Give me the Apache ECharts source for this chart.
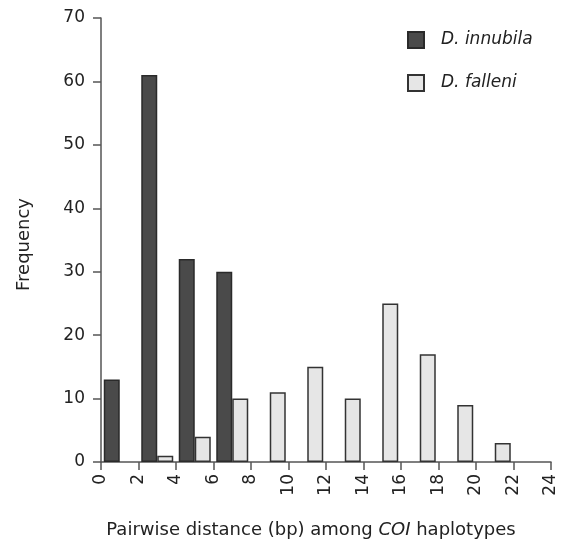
<!DOCTYPE html>
<html>
<head>
<meta charset="utf-8">
<script src="https://cdn.jsdelivr.net/npm/echarts@6/dist/echarts.min.js"></script>
<style>
html,body{margin:0;padding:0;background:#fff;}
#chart{width:561px;height:544px;}
</style>
</head>
<body>
<div id="chart"></div>
<script>
// Bin starts (bp), bars are drawn centred at start+1
const binStarts = [0, 2, 4, 6, 8, 10, 12, 14, 16, 18, 20];
const innubila = [13, 61, 32, 30, null, null, null, null, null, null, null];
const falleni  = [null, 1, 4, 10, 11, 15, 10, 25, 17, 9, 3];
const seriesNames = ['D. innubila', 'D. falleni'];
const xTicks = {min: 0, max: 24, interval: 2};
const yTicks = {min: 0, max: 70, interval: 10};

const font = 'DejaVu Sans';
const chart = echarts.init(document.getElementById('chart'), null, {renderer: 'canvas'});

function toPairs(vals) {
  return binStarts.map((b, i) => [b + 1, vals[i]]).filter(p => p[1] !== null);
}

chart.setOption({
  backgroundColor: '#ffffff',
  animation: false,
  grid: {left: 101, right: 10, top: 18, bottom: 78, containLabel: false},
  legend: {
    orient: 'vertical',
    left: 407, top: 31,
    padding: 0,
    itemWidth: 16, itemHeight: 16,
    itemGap: 25,
    icon: 'rect',
    textStyle: {fontFamily: font, fontStyle: 'italic', fontSize: 17, color: '#222', padding: [0, 0, 0, 12]},
    data: seriesNames
  },
  xAxis: {
    type: 'value',
    min: xTicks.min, max: xTicks.max, interval: xTicks.interval,
    name: 'Pairwise distance (bp) among {i|COI} haplotypes',
    nameLocation: 'middle',
    nameGap: 59,
    nameTextStyle: {
      fontFamily: font, fontSize: 18, color: '#222', verticalAlign: 'top',
      padding: [0, 30, 0, 0],
      rich: {i: {fontFamily: font, fontSize: 18, fontStyle: 'italic', color: '#222'}}
    },
    axisLine: {show: true, lineStyle: {color: '#555', width: 1.5}},
    axisTick: {show: true, length: 8, inside: false, lineStyle: {color: '#555', width: 1.5}},
    axisLabel: {rotate: 90, margin: 12, fontFamily: font, fontSize: 17, color: '#222'},
    splitLine: {show: false}
  },
  yAxis: {
    type: 'value',
    min: yTicks.min, max: yTicks.max, interval: yTicks.interval,
    name: 'Frequency',
    nameLocation: 'middle',
    nameGap: 68,
    nameTextStyle: {fontFamily: font, fontSize: 18, color: '#222', padding: [0, 9, 0, 0]},
    axisLine: {show: true, lineStyle: {color: '#555', width: 1.5}},
    axisTick: {show: true, length: 8, lineStyle: {color: '#555', width: 1.5}},
    axisLabel: {margin: 16, fontFamily: font, fontSize: 17, color: '#222'},
    splitLine: {show: false}
  },
  series: [
    {
      name: seriesNames[0], type: 'bar',
      data: toPairs(innubila),
      barWidth: 16, barGap: '0%',
      itemStyle: {color: '#4a4a4a', borderColor: '#2a2a2a', borderWidth: 1.5}
    },
    {
      name: seriesNames[1], type: 'bar',
      data: toPairs(falleni),
      barWidth: 16, barGap: '0%',
      itemStyle: {color: '#e6e6e6', borderColor: '#333', borderWidth: 1.5}
    }
  ]
});
</script>
</body>
</html>
